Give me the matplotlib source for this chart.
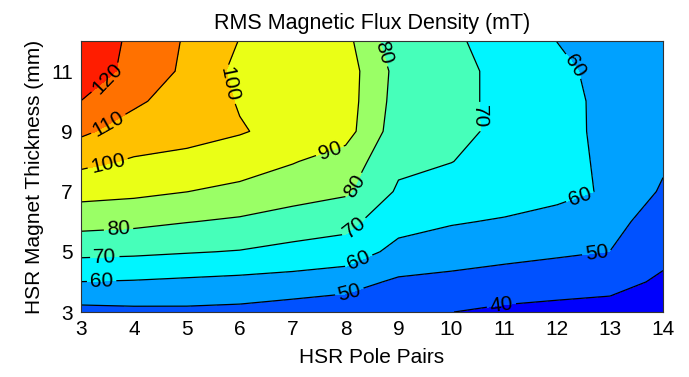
import numpy as np
import matplotlib
matplotlib.use('Agg')
import matplotlib.pyplot as plt
from matplotlib.colors import LinearSegmentedColormap, Normalize

plt.rcParams['font.family'] = ['Liberation Sans', 'DejaVu Sans']

# HSR pole pairs (x) and magnet thickness in mm (y)
pole_pairs = np.arange(3, 15)
thickness = np.arange(3, 13)

# RMS flux density (mT), one row per thickness, one column per pole pair count
flux = np.array([
    [47.0, 47.8, 48.0, 47.4, 45.3, 45.5, 43.0, 40.1, 38.1, 37.1, 36.4, 35.4],
    [59.9, 59.3, 58.3, 57.3, 56.3, 53.0, 48.7, 47.5, 45.9, 44.5, 43.2, 38.5],
    [72.5, 71.8, 70.6, 69.5, 67.0, 66.5, 56.5, 54.5, 52.9, 51.4, 49.9, 42.5],
    [83.5, 82.4, 80.3, 78.6, 76.1, 72.5, 64.2, 60.8, 59.1, 56.8, 53.0, 45.4],
    [93.4, 92.2, 90.1, 87.2, 83.7, 81.5, 68.7, 65.6, 65.0, 62.5, 58.9, 48.7],
    [102.4, 99.0, 97.3, 95.6, 90.6, 85.5, 72.1, 70.2, 66.0, 61.5, 59.1, 51.5],
    [111.8, 105.4, 103.5, 100.6, 97.4, 93.9, 74.3, 72.5, 67.9, 63.0, 57.6, 53.0],
    [119.9, 111.7, 105.2, 99.4, 97.0, 94.7, 75.8, 73.0, 67.4, 63.0, 57.5, 54.0],
    [125.9, 117.0, 108.0, 97.2, 96.0, 94.9, 76.7, 73.0, 67.4, 62.0, 57.1, 55.0],
    [127.5, 117.8, 108.9, 99.7, 96.5, 93.0, 73.0, 71.5, 66.3, 59.9, 57.0, 56.0],
])

levels = np.arange(30, 131, 10)

# where the contour values get written
label_pos = [(3.64, 10.44), (3.54, 9.17), (5.78, 10.55), (3.51, 7.89),
             (7.71, 8.32), (8.75, 11.64), (8.21, 7.16), (3.71, 5.72),
             (10.54, 9.49), (8.18, 5.78), (3.45, 4.78), (12.31, 11.15),
             (12.43, 6.83), (8.27, 4.61), (3.39, 3.97), (8.09, 3.56),
             (12.75, 4.89), (10.95, 3.17)]

# matlab flavoured jet
jet_m = LinearSegmentedColormap('jet_m', {
    'red':   [(0, 0, 0), (0.375, 0, 0), (0.625, 1, 1), (0.875, 1, 1), (1, 0.5, 0.5)],
    'green': [(0, 0, 0), (0.125, 0, 0), (0.375, 1, 1), (0.625, 1, 1), (0.875, 0, 0), (1, 0, 0)],
    'blue':  [(0, 0.5, 0.5), (0.125, 1, 1), (0.375, 1, 1), (0.625, 0, 0), (1, 0, 0)],
})

fig = plt.figure(figsize=(6.89, 3.77), dpi=100)
ax = fig.add_axes([0.1176, 0.1724, 0.8447, 0.7188])

X, Y = np.meshgrid(pole_pairs, thickness)
ax.contourf(X, Y, flux, levels=levels, cmap=jet_m, norm=Normalize(19.4, 144.4))
cl = ax.contour(X, Y, flux, levels=levels, colors='k', linewidths=0.9)
txts = ax.clabel(cl, manual=label_pos, fontsize=15, inline=True, fmt='%d', inline_spacing=3)
for t in txts:
    t.set_clip_on(True)

ax.set_xlim(3, 14)
ax.set_ylim(3, 12)
ax.set_xticks(pole_pairs)
ax.set_yticks([3, 5, 7, 9, 11])
ax.tick_params(direction='in', length=0, labelsize=15, pad=6)
for s in ax.spines.values():
    s.set_linewidth(0.8)
    s.set_color('#333333')

ax.set_title('RMS Magnetic Flux Density (mT)', fontsize=15.5, pad=9)
ax.set_xlabel('HSR Pole Pairs', fontsize=15, labelpad=6)
ax.set_ylabel('HSR Magnet Thickness (mm)', fontsize=15, labelpad=5)

fig.savefig('out.png', dpi=100)
